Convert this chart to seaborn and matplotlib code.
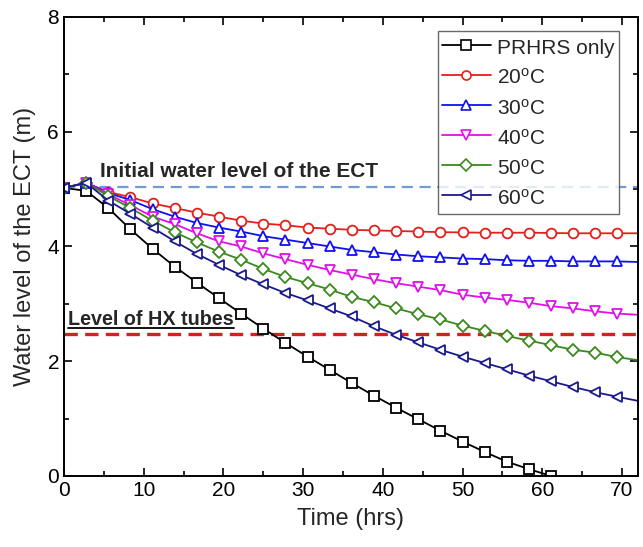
import numpy as np
import pandas as pd
import matplotlib
matplotlib.use("Agg")
import matplotlib.pyplot as plt
import seaborn as sns
from matplotlib.lines import Line2D
from matplotlib.ticker import MultipleLocator

# ---------------- data ----------------
step_hr = 10000 / 3600.0   # one marker every 10000 s
times_prhrs = [i * step_hr for i in range(23)]
times_temp = [i * step_hr for i in range(26)] + [72.0]

prhrs_only = [5.02, 4.97, 4.67, 4.30, 3.96, 3.65, 3.37, 3.10, 2.83, 2.57,
              2.32, 2.08, 1.85, 1.62, 1.40, 1.19, 0.99, 0.79, 0.60, 0.42,
              0.25, 0.12, 0.0]
t20 = [5.02, 5.11, 4.95, 4.86, 4.75, 4.67, 4.59, 4.52, 4.45, 4.40,
       4.37, 4.33, 4.31, 4.29, 4.28, 4.27, 4.26, 4.25, 4.245, 4.24,
       4.24, 4.24, 4.235, 4.23, 4.23, 4.23, 4.23]
t30 = [5.02, 5.11, 4.93, 4.81, 4.65, 4.52, 4.41, 4.33, 4.26, 4.18,
       4.12, 4.06, 4.00, 3.94, 3.90, 3.86, 3.83, 3.81, 3.79, 3.78,
       3.76, 3.75, 3.75, 3.74, 3.74, 3.74, 3.73]
t40 = [5.02, 5.11, 4.91, 4.72, 4.52, 4.39, 4.23, 4.09, 4.00, 3.88,
       3.78, 3.68, 3.59, 3.51, 3.43, 3.36, 3.30, 3.24, 3.16, 3.11,
       3.07, 3.02, 2.96, 2.92, 2.87, 2.83, 2.81]
t50 = [5.02, 5.11, 4.88, 4.67, 4.45, 4.25, 4.07, 3.91, 3.77, 3.61,
       3.47, 3.36, 3.25, 3.12, 3.03, 2.92, 2.82, 2.73, 2.62, 2.53,
       2.44, 2.36, 2.28, 2.20, 2.15, 2.07, 2.02]
t60 = [5.02, 5.11, 4.80, 4.57, 4.33, 4.09, 3.87, 3.68, 3.50, 3.34,
       3.19, 3.06, 2.92, 2.78, 2.61, 2.46, 2.33, 2.20, 2.08, 1.97,
       1.86, 1.75, 1.65, 1.55, 1.46, 1.38, 1.31]

series_names = ["PRHRS only", "20$^{\\rm o}$C", "30$^{\\rm o}$C",
                "40$^{\\rm o}$C", "50$^{\\rm o}$C", "60$^{\\rm o}$C"]
series_values = [prhrs_only, t20, t30, t40, t50, t60]
series_colors = ["#000000", "#e3201b", "#1010f0", "#e010e8", "#3a8a1e", "#1a1a8c"]
series_markers = ["s", "o", "^", "v", "D", "<"]

initial_level = 5.03
hx_level = 2.47

# ---------------- style ----------------
sns.set_theme(style="ticks")
plt.rcParams["font.family"] = ["Liberation Sans", "DejaVu Sans"]
plt.rcParams["mathtext.fontset"] = "custom"
plt.rcParams["mathtext.rm"] = "Liberation Sans"
plt.rcParams["mathtext.bf"] = "Liberation Sans:bold"
plt.rcParams["mathtext.it"] = "Liberation Sans:italic"

frames = []
for name, vals in zip(series_names, series_values):
    tt = times_prhrs if name == "PRHRS only" else times_temp
    frames.append(pd.DataFrame({"Time": tt, "Level": vals, "Case": name}))
df = pd.concat(frames, ignore_index=True)

fig = plt.figure(figsize=(6.43, 5.47), dpi=100)
ax = fig.add_axes([0.0995, 0.1298, 0.8925, 0.8392])

sns.lineplot(data=df, x="Time", y="Level", hue="Case", hue_order=series_names,
             palette=dict(zip(series_names, series_colors)),
             estimator=None, sort=False, legend=False, ax=ax, linewidth=1.3)

handles = []
for line, name, col, mk in zip(ax.lines[:6], series_names, series_colors, series_markers):
    n = len(line.get_xdata())
    line.set_marker(mk)
    line.set_markersize(7.0 if mk != "D" else 6.2)
    line.set_markerfacecolor("white")
    line.set_markeredgecolor(col)
    line.set_markeredgewidth(1.3)
    line.set_color(col)
    if name != "PRHRS only":
        line.set_markevery(list(range(n - 1)))
    handles.append(Line2D([], [], color=col, lw=1.3, marker=mk,
                          markersize=6.5 if mk != "D" else 5.8, markerfacecolor="white",
                          markeredgecolor=col, markeredgewidth=1.2))

ax.axhline(initial_level, color="#6f9bd6", lw=1.6, ls=(0, (5, 3)), zorder=1)
ax.axhline(hx_level, color="#d42020", lw=2.4, ls=(0, (4, 2.2)), zorder=1)

ax.text(4.5, 5.31, "Initial water level of the ECT", fontsize=15,
        fontweight="bold", va="center", ha="left")
hx_txt = ax.text(0.55, 2.72, "Level of HX tubes", fontsize=14.2,
                 fontweight="bold", va="center", ha="left")

leg = ax.legend(handles=handles, labels=series_names, loc="upper right",
                bbox_to_anchor=(0.967, 0.9695), fontsize=15, frameon=True,
                fancybox=False, edgecolor="#444444", handlelength=2.35,
                handleheight=1.4, handletextpad=0.3, labelspacing=0.29,
                borderpad=0.2, borderaxespad=0.0)
leg.get_frame().set_linewidth(1.0)

ax.set_xlim(0, 72)
ax.set_ylim(0, 8)
ax.xaxis.set_major_locator(MultipleLocator(10))
ax.xaxis.set_minor_locator(MultipleLocator(5))
ax.yaxis.set_major_locator(MultipleLocator(2))
ax.yaxis.set_minor_locator(MultipleLocator(1))
ax.tick_params(which="both", direction="in", top=True, right=True, width=1.2,
               labelsize=15, colors="black")
ax.tick_params(which="major", length=6)
ax.tick_params(which="minor", length=3.5)
for sp in ax.spines.values():
    sp.set_linewidth(1.4)
    sp.set_color("black")

ax.set_xlabel("Time (hrs)", fontsize=17, labelpad=6)
ax.set_ylabel("Water level of the ECT (m)", fontsize=17, labelpad=8)

# underline for the HX label (text decoration)
fig.canvas.draw()
bb = hx_txt.get_window_extent(renderer=fig.canvas.get_renderer())
bb_fig = bb.transformed(fig.transFigure.inverted())
fig.add_artist(Line2D([bb_fig.x0, bb_fig.x1], [bb_fig.y0 + 0.002, bb_fig.y0 + 0.002],
                      color="black", lw=1.3, transform=fig.transFigure))

fig.savefig("out.png", dpi=100)
